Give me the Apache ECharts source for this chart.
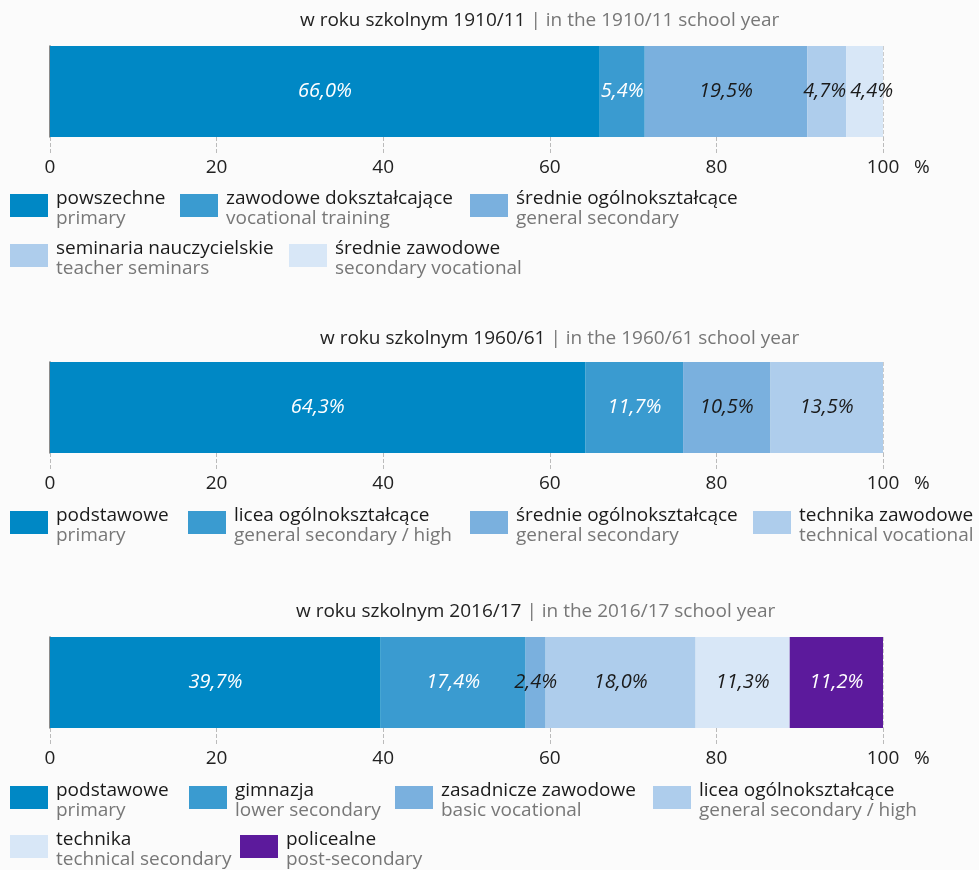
<!DOCTYPE html>
<html>
<head>
<meta charset="utf-8">
<script src="https://cdn.jsdelivr.net/npm/echarts@6/dist/echarts.min.js"></script>
<style>
  html, body { margin: 0; padding: 0; background: #fbfbfb; }
  #chart { width: 979px; height: 870px; }
</style>
</head>
<body>
<div id="chart"></div>
<script>
// dane
const years = ['1910/11', '1960/61', '2016/17']

const namesPl1 = ['powszechne', 'zawodowe dokształcające', 'średnie ogólnokształcące', 'seminaria nauczycielskie', 'średnie zawodowe']
const namesEn1 = ['primary', 'vocational training', 'general secondary', 'teacher seminars', 'secondary vocational']
const values1 = [66.0, 5.4, 19.5, 4.7, 4.4]

const namesPl2 = ['podstawowe', 'licea ogólnokształcące', 'średnie ogólnokształcące', 'technika zawodowe']
const namesEn2 = ['primary', 'general secondary / high', 'general secondary', 'technical vocational']
const values2 = [64.3, 11.7, 10.5, 13.5]

const namesPl3 = ['podstawowe', 'gimnazja', 'zasadnicze zawodowe', 'licea ogólnokształcące', 'technika', 'policealne']
const namesEn3 = ['primary', 'lower secondary', 'basic vocational', 'general secondary / high', 'technical secondary', 'post-secondary']
const values3 = [39.7, 17.4, 2.4, 18.0, 11.3, 11.2]

const axisTicks = [0, 20, 40, 60, 80, 100]

// wygląd
const blues = ['#0088c5', '#3a9bd0', '#7ab0de', '#aecdec', '#d8e7f7']
const purple = '#5c1a9c'
const colors = [blues, blues.slice(0, 4), blues.concat([purple])]
const lightText = ['#0088c5', '#3a9bd0', purple]

const font = 'Open Sans'
const barTops = [46, 362, 637]
const titleTops = [11, 329, 602]
const titleLeft = [300, 320, 296]
// pozycje legendy [x ikony, środek pierwszej linii tekstu]
const legendSlots = [
  [[10, 200], [180, 200], [470, 200], [10, 250], [289, 250]],
  [[10, 517], [188, 517], [470, 517], [753, 517]],
  [[10, 792], [189, 792], [395, 792], [653, 792], [10, 841], [240, 841]]
]
// przesunięcie etykiet wąskich odcinków
const labelShift = { '0:4': [7, 0], '0:3': [-2, 0] }

const charts = [
  { pl: namesPl1, en: namesEn1, values: values1 },
  { pl: namesPl2, en: namesEn2, values: values2 },
  { pl: namesPl3, en: namesEn3, values: values3 }
]

const fmt = v => v.toFixed(1).replace('.', ',') + '%'

const myChart = echarts.init(document.getElementById('chart'))

const grid = [], xAxis = [], yAxis = [], series = [], legend = [], title = []
const labelMap = {}

charts.forEach((c, i) => {
  grid.push({ left: 50, width: 833, top: barTops[i], height: 91 })
  xAxis.push({
    gridIndex: i,
    type: 'value',
    min: axisTicks[0],
    max: axisTicks[axisTicks.length - 1],
    interval: axisTicks[1] - axisTicks[0],
    axisLine: { show: false },
    axisTick: { show: true, length: 17, lineStyle: { color: '#bbb', type: 'dashed' } },
    splitLine: { show: true, lineStyle: { color: '#ccc', type: 'dashed' } },
    axisLabel: { margin: 21, fontSize: 19, color: '#222', fontFamily: font },
    name: '%',
    nameLocation: 'end',
    nameGap: 31,
    nameTextStyle: { fontSize: 19, color: '#222', fontFamily: font, verticalAlign: 'top', padding: [21, 0, 0, 0] }
  })
  yAxis.push({
    gridIndex: i,
    type: 'category',
    data: [years[i]],
    axisLine: { show: true, lineStyle: { color: '#666', width: 1.5 } },
    axisTick: { show: false },
    axisLabel: { show: false }
  })
  title.push({
    text: '{a|w roku szkolnym ' + years[i] + '} {b|| in the ' + years[i] + ' school year}',
    left: titleLeft[i],
    top: titleTops[i],
    padding: 0,
    textStyle: {
      rich: {
        a: { fontSize: 19, fontWeight: 'normal', color: '#222', fontFamily: font },
        b: { fontSize: 19, fontWeight: 'normal', color: '#777', fontFamily: font }
      }
    }
  })
  c.pl.forEach((pl, j) => {
    const key = i + ':' + pl
    labelMap[key] = { pl, en: c.en[j] }
    const col = colors[i][j]
    series.push({
      name: key,
      type: 'bar',
      stack: 'rok' + i,
      xAxisIndex: i,
      yAxisIndex: i,
      barWidth: '100%',
      data: [c.values[j]],
      itemStyle: { color: col },
      label: {
        show: true,
        position: 'inside',
        offset: labelShift[i + ':' + j] || [0, 0],
        formatter: p => fmt(p.value),
        fontSize: 20,
        fontStyle: 'italic',
        fontFamily: font,
        color: lightText.includes(col) ? '#fff' : '#1a1a1a'
      }
    })
    const slot = legendSlots[i][j]
    legend.push({
      left: slot[0],
      top: slot[1] - 19,
      padding: 0,
      data: [key],
      icon: 'rect',
      selectedMode: false,
      itemWidth: 38,
      itemHeight: 23,
      itemGap: 0,
      formatter: n => '{a|' + labelMap[n].pl + '}\n{b|' + labelMap[n].en + '}',
      textStyle: {
        rich: {
          a: { fontSize: 19, lineHeight: 22, color: '#1a1a1a', fontFamily: font, padding: [8, 0, 0, 3] },
          b: { fontSize: 19, lineHeight: 22, color: '#777', fontFamily: font, padding: [4, 0, 0, 3] }
        }
      }
    })
  })
})

myChart.setOption({
  backgroundColor: '#fbfbfb',
  animation: false,
  title,
  grid,
  xAxis,
  yAxis,
  legend,
  series
})

window.addEventListener('resize', () => myChart.resize())
</script>
</body>
</html>
